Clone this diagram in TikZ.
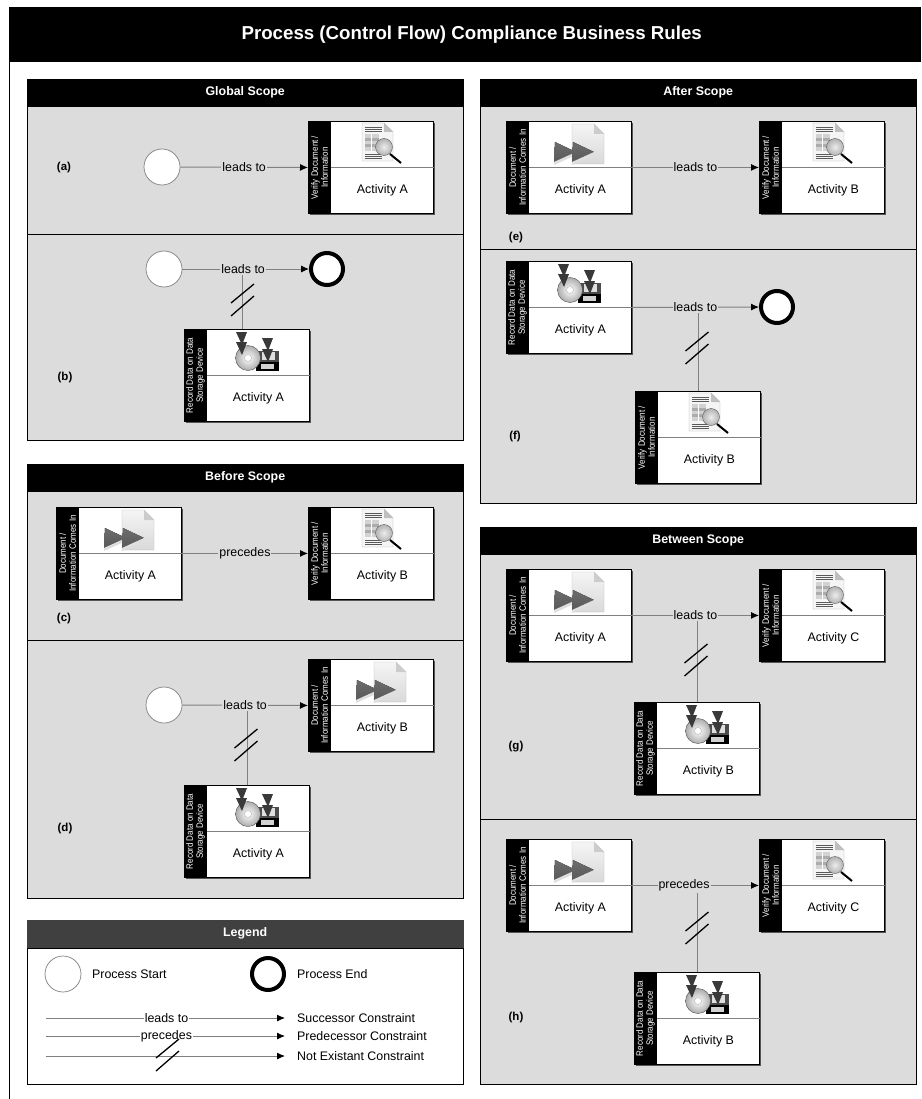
\documentclass[tikz,border=0pt]{standalone}
\usepackage{fontspec}
\setmainfont{Liberation Sans}
\newfontfamily\lanefont[FakeStretch=0.87]{Liberation Sans}
\usetikzlibrary{arrows.meta,shadows}
\definecolor{panelgrey}{HTML}{DCDCDC}
\definecolor{legendgrey}{HTML}{404040}
\definecolor{flowgrey}{HTML}{808080}
\definecolor{shadowgrey}{HTML}{555555}
\tikzset{
  titlebar/.style={fill=black,text=white,anchor=north west,inner sep=0pt,minimum width=912pt,minimum height=55pt,font=\fontsize{18.7}{21}\selectfont\bfseries},
  scopehead/.style={draw=black,fill=black,text=white,anchor=north west,inner sep=0pt,minimum width=436pt,minimum height=27pt,font=\fontsize{12.4}{14}\selectfont\bfseries},
  panelbox/.style={draw=black,line width=0.9pt,fill=panelgrey,anchor=north west,inner sep=0pt,minimum width=436pt},
  actbox/.style={draw=black,line width=0.9pt,fill=white,anchor=north west,inner sep=0pt,minimum width=125pt,minimum height=92pt,general shadow={fill=shadowgrey,shadow xshift=2pt,shadow yshift=-2pt}},
  lanebox/.style={fill=black,text=white,rotate=90,inner sep=0pt,minimum width=92pt,minimum height=23pt,align=center,font=\lanefont\fontsize{9.2}{10}\selectfont},
  acttext/.style={inner sep=0pt,font=\fontsize{12.4}{14}\selectfont},
  startev/.style={circle,draw=flowgrey,line width=0.7pt,fill=white,inner sep=0pt,minimum size=36pt},
  endev/.style={circle,draw=black,line width=4pt,fill=white,inner sep=0pt,minimum size=32pt},
  flowline/.style={draw=flowgrey,line width=0.9pt},
  flowarrow/.style={flowline,-{Latex[black,length=8pt,width=7pt]}},
  flowlabel/.style={fill=panelgrey,inner sep=1pt,font=\fontsize{12.4}{14}\selectfont},
  legendlabel/.style={flowlabel,fill=white},
  legendtext/.style={anchor=west,inner sep=0pt,font=\fontsize{12.4}{14}\selectfont},
  partlabel/.style={inner sep=0pt,font=\fontsize{11.5}{14}\selectfont\bfseries},
  notmark/.pic={
    \draw[black,line width=1.3pt] (-11.5,3) -- (11.5,-16);
    \draw[black,line width=1.3pt] (-11.5,16) -- (11.5,-4);
  },
  docicon/.pic={
    \draw[draw=gray!50,top color=gray!8,bottom color=gray!30] (66,3) -- (88,3) -- (98,13) -- (98,43) -- (66,43) -- cycle;
    \fill[gray!40] (88,3) -- (88,13) -- (98,13) -- cycle;
    \foreach \dx in {0,18} {
      \fill[top color=gray!85!black,bottom color=gray!70!black] (49+\dx,21) -- (70+\dx,31) -- (48+\dx,41) -- cycle;
      \fill[gray!25] (48+\dx,41) -- (70+\dx,31) -- (70+\dx,34) -- (48+\dx,44) -- cycle;
    }
  },
  verifyicon/.pic={
    \draw[draw=gray!60,fill=gray!8] (54,2) -- (76,2) -- (85,11) -- (85,40) -- (54,40) -- cycle;
    \fill[gray!50] (76,2) -- (76,11) -- (85,11) -- cycle;
    \foreach \yy in {6,8,10,33,35,37}
      \draw[gray!70!black,line width=0.7pt] (57,\yy) -- (74,\yy);
    \fill[gray!35] (57,13) rectangle (71,30);
    \foreach \yy in {17,23}
      \fill[gray!65] (57,\yy) rectangle (71,\yy+3);
    \draw[white,line width=0.5pt] (63,13) -- (63,30);
    \draw[black,line width=2pt] (82,33) -- (93,42);
    \draw[gray!70!black,inner color=gray!15,outer color=gray!60] (76,26) circle (8.5);
  },
  diskicon/.pic={
    \fill[gray!60!black] (72,22) rectangle (95,42);
    \fill[gray!25] (78,23) rectangle (91,31);
    \fill[black] (72,33) rectangle (95,42);
    \fill[gray!35] (77,35) rectangle (90,40);
    \draw[gray!60!black,inner color=white,outer color=gray!65] (64,29) circle (12.5);
    \draw[gray!60,fill=white] (64,29) circle (3.5);
    \foreach \dx/\yy in {0/3,0/13,26/9,26/20} {
      \fill[gray!45!black] (52+\dx,\yy) -- (63+\dx,\yy) -- (58+\dx,\yy+13) -- cycle;
    }
  },
}
\newcommand{\activity}[5]{
  \node[actbox] (#1) at (#2) {};
  \coordinate[xshift=11.5pt] (#1mid) at (#1.west);
  \node[lanebox] (#1lane) at (#1mid) {#3};
  \draw[flowline] (#1lane.south) -- (#1.east);
  \node[acttext,xshift=11.5pt,yshift=-23pt] (#1text) at (#1.center) {#5};
  \pic at (#1.north west) {#4};
}
\newcommand{\doclane}{Document /\\Information Comes In}
\newcommand{\verifylane}{Verify Document /\\Information}
\newcommand{\recordlane}{Record Data on Data\\Storage Device}

\begin{document}
\begin{tikzpicture}[x=1pt,y=-1pt]
  \useasboundingbox (0,0) rectangle (921,1099);
  \fill[white] (0,0) rectangle (921,1099);

  \node[titlebar] (title) at (9,7) {\hspace*{13pt}Process (Control Flow) Compliance Business Rules};
  \draw[black,line width=1pt] (title.south west) -- ++(0,1037);

  % panels
  \foreach \n/\x/\y/\h in {a/27/105/129,b/27/234/206,c/27/491/149,d/27/640/258,e/480/105/144,f/480/249/254,g/480/553/266,h/480/819/265}
    \node[panelbox,minimum height=\h pt] (panel\n) at (\x,\y) {};
  \node[scopehead] (headglobal) at (27,79) {Global Scope};
  \node[scopehead] (headbefore) at (27,464) {Before Scope};
  \node[scopehead] (headafter) at (480,79) {After Scope};
  \node[scopehead] (headbetween) at (480,527) {Between Scope};
  \foreach \n/\x/\y in {a/64/168,b/65/378,c/64/619,d/65/829,e/516/238,f/515/437,g/516/747,h/516/1018}
    \node[partlabel] (part\n) at (\x,\y) {(\n)};

  % (a)
  \node[startev] (starta) at (162,167) {};
  \activity{veria}{308,121}{\verifylane}{verifyicon}{Activity A}
  \draw[flowarrow] (starta) -- node[flowlabel] (lbla) {leads to} (veria.west);

  % (b)
  \node[startev] (startb) at (164,269) {};
  \node[endev] (endb) at (327,269) {};
  \activity{recb}{184,329}{\recordlane}{diskicon}{Activity A}
  \draw[flowarrow] (startb) -- node[flowlabel,pos=0.48] (lblb) {leads to} (endb);
  \coordinate[xshift=-4.5pt] (joinb) at (recb.north);
  \draw[flowline] (joinb) -- (joinb |- lblb.south);
  \pic at (242.5,300) {notmark};

  % (c)
  \activity{docc}{56,507}{\doclane}{docicon}{Activity A}
  \activity{verc}{308,507}{\verifylane}{verifyicon}{Activity B}
  \draw[flowarrow] (docc.east) -- node[flowlabel] (lblc) {precedes} (verc.west);

  % (d)
  \node[startev] (startd) at (164,705) {};
  \activity{docd}{308,659}{\doclane}{docicon}{Activity B}
  \activity{recd}{184,785}{\recordlane}{diskicon}{Activity A}
  \draw[flowarrow] (startd) -- node[flowlabel] (lbld) {leads to} (docd.west);
  \draw[flowline] (recd.north) -- (recd.north |- lbld.south);
  \pic at (246,745) {notmark};

  % (e)
  \activity{doce}{506,121}{\doclane}{docicon}{Activity A}
  \activity{vere}{759,121}{\verifylane}{verifyicon}{Activity B}
  \draw[flowarrow] (doce.east) -- node[flowlabel] (lble) {leads to} (vere.west);

  % (f)
  \activity{recf}{506,261}{\recordlane}{diskicon}{Activity A}
  \node[endev] (endf) at (777,307) {};
  \activity{verf}{635,391}{\verifylane}{verifyicon}{Activity B}
  \draw[flowarrow] (recf.east) -- node[flowlabel] (lblf) {leads to} (endf);
  \draw[flowline] (verf.north) -- (verf.north |- lblf.south);
  \pic at (697,348) {notmark};

  % (g)
  \activity{docg}{506,569}{\doclane}{docicon}{Activity A}
  \activity{verg}{759,569}{\verifylane}{verifyicon}{Activity C}
  \activity{recg}{634,702}{\recordlane}{diskicon}{Activity B}
  \draw[flowarrow] (docg.east) -- node[flowlabel] (lblg) {leads to} (verg.west);
  \draw[flowline] (recg.north) -- (recg.north |- lblg.south);
  \pic at (696,660) {notmark};

  % (h)
  \activity{doch}{506,839}{\doclane}{docicon}{Activity A}
  \activity{verh}{759,839}{\verifylane}{verifyicon}{Activity C}
  \activity{rech}{634,972}{\recordlane}{diskicon}{Activity B}
  \draw[flowarrow] (doch.east) -- node[flowlabel,pos=0.41] (lblh) {precedes} (verh.west);
  \draw[flowline] (rech.north) -- (rech.north |- lblh.south);
  \pic at (697,928) {notmark};

  % legend
  \node[panelbox,fill=white,minimum height=136pt] (legendbody) at (27,948) {};
  \node[scopehead,draw=legendgrey,fill=legendgrey] (legendhead) at (27,920) {Legend};
  \node[startev] (legstart) at (63,974) {};
  \node[legendtext] (legstarttext) at (92,974) {Process Start};
  \node[endev] (legend) at (268,974) {};
  \node[legendtext] (legendtext) at (297,974) {Process End};
  \foreach \n/\y/\t in {a/1018/Successor Constraint,b/1036/Predecessor Constraint,c/1056/Not Existant Constraint} {
    \coordinate (legfrom\n) at (46,\y);
    \node[legendtext] (legto\n) at (297,\y) {\t};
  }
  \draw[flowarrow,shorten >=12pt] (legfroma) -- node[legendlabel,pos=0.48] (lblleadsto) {leads to} (legfroma -| legtoa.west);
  \draw[flowarrow,shorten >=12pt] (legfromb) -- node[legendlabel,pos=0.48] (lblprecedes) {precedes} (legfromb -| legtob.west);
  \draw[flowarrow,shorten >=12pt] (legfromc) -- (legfromc -| legtoc.west);
  \pic at (167.5,1055) {notmark};
\end{tikzpicture}
\end{document}
